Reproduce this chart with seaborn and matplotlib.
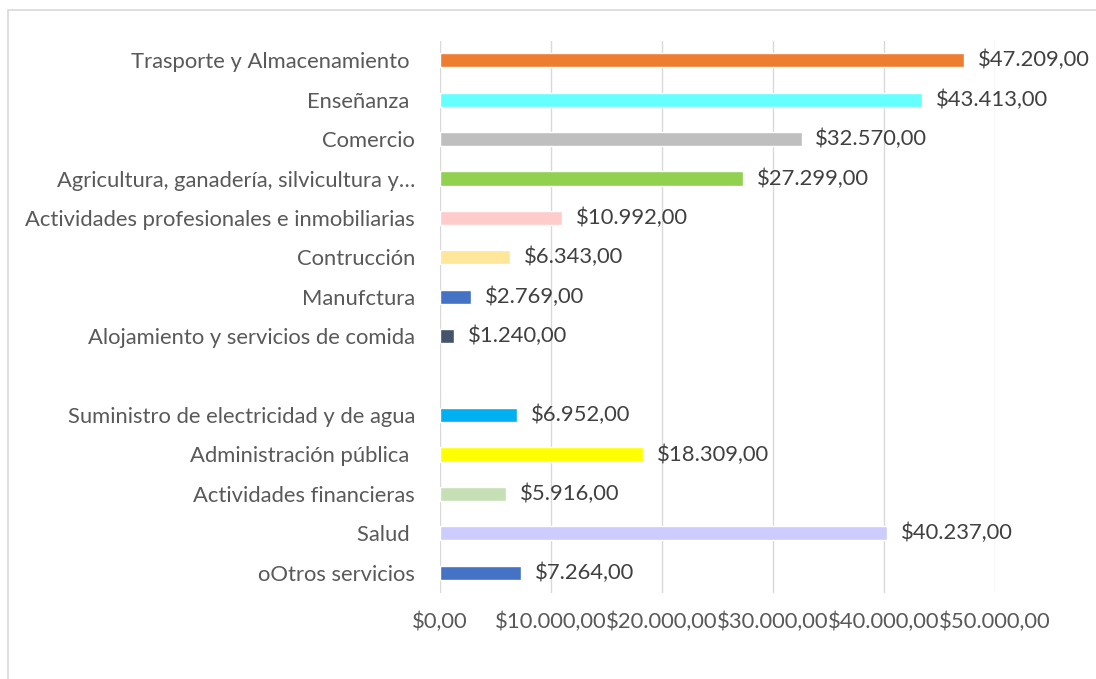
import numpy as np
import pandas as pd
import matplotlib.pyplot as plt
import seaborn as sns
from matplotlib.patches import Rectangle

# datos del gráfico (de arriba hacia abajo)
categorias = ['Trasporte y Almacenamiento ', 'Enseñanza ', 'Comercio',
              'Agricultura, ganadería, silvicultura y…',
              'Actividades profesionales e inmobiliarias', 'Contrucción',
              'Manufctura', 'Alojamiento y servicios de comida', ' ',
              'Suministro de electricidad y de agua', 'Administración pública ',
              'Actividades financieras', 'Salud ', 'oOtros servicios']
valores = [47209, 43413, 32570, 27299, 10992, 6343, 2769, 1240, np.nan,
           6952, 18309, 5916, 40237, 7264]
colores = ['#ED7D31', '#66FFFF', '#BFBFBF', '#92D050', '#FFCCCC', '#FFE699',
           '#4472C4', '#44546A', '#FFFFFF', '#00B0F0', '#FFFF00', '#C5E0B4',
           '#CCCCFF', '#4472C4']
ticks_x = [0, 10000, 20000, 30000, 40000, 50000]


def moneda(v):
    s = f'{v:,.2f}'
    s = s.replace(',', 'X').replace('.', ',').replace('X', '.')
    return '$' + s


sns.set_theme(style='white')
plt.rcParams['font.family'] = ['Lato', 'DejaVu Sans']

df = pd.DataFrame({'categoria': categorias, 'valor': valores})

fig = plt.figure(figsize=(10.96, 6.79), dpi=100)
fig.patches.append(Rectangle((8 / 1096, -0.1), 1.2, 1 - 10 / 679 + 0.1,
                             transform=fig.transFigure, fill=False,
                             edgecolor='#D9D9D9', linewidth=1.2))
ax = fig.add_axes([440 / 1096, 1 - 592.5 / 679, 555 / 1096, 552 / 679])

sns.barplot(data=df, y='categoria', x='valor', hue='categoria',
            palette=colores, orient='h', width=0.36, legend=False, ax=ax,
            saturation=1)

fs = 15.8
ax.set_xlim(0, 50000)
ax.set_xticks(ticks_x)
ax.set_xticklabels([moneda(t) for t in ticks_x], fontsize=fs, color='#595959')
ax.tick_params(axis='y', labelsize=fs, labelcolor='#595959', length=0, pad=18)
ax.tick_params(axis='x', length=0, pad=14)
ax.set_xlabel('')
ax.set_ylabel('')
ax.grid(axis='x', color='#D9D9D9', linewidth=1)
ax.set_axisbelow(True)
for s in ax.spines.values():
    s.set_visible(False)

for cont in ax.containers:
    etiquetas = [moneda(v) if not np.isnan(v) else '' for v in cont.datavalues]
    ax.bar_label(cont, labels=etiquetas, padding=10, fontsize=fs,
                 color='#404040')

fig.savefig('out.png', dpi=100)
